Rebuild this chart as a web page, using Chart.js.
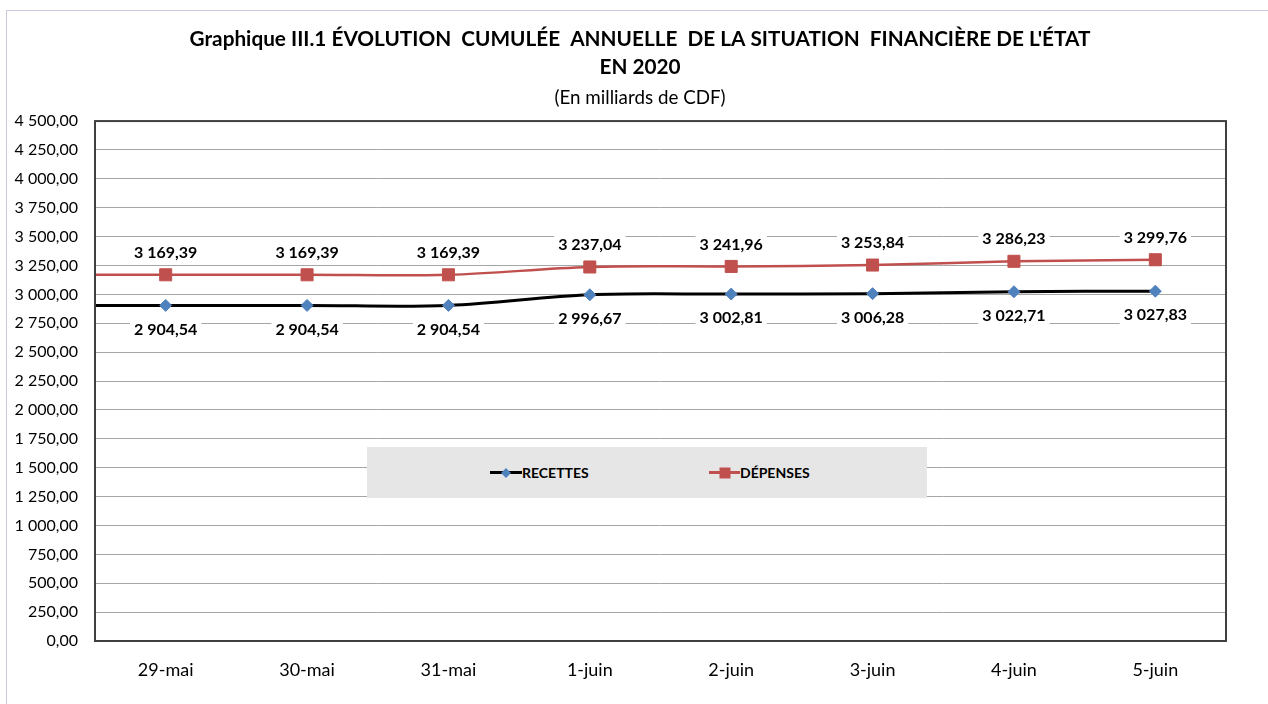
<!DOCTYPE html>
<html lang="fr">
<head>
<meta charset="utf-8">
<script src="https://cdn.jsdelivr.net/npm/chart.js@4.4.1/dist/chart.umd.min.js"></script>
<style>
  html,body{margin:0;padding:0;background:#fff;overflow:hidden;}
  #wrap{position:relative;width:1268px;height:704px;}
  #frame{position:absolute;left:6px;top:10px;right:-2px;bottom:-2px;border-top:1px solid #c9c9e0;border-left:1px solid #c9c9e0;pointer-events:none;}
  canvas{position:absolute;left:0;top:0;}
  #legend{position:absolute;left:367px;top:447px;width:560px;height:51px;background:#e6e6e6;
    font-family:Lato, 'Open Sans', sans-serif;font-weight:bold;font-size:14px;color:#000;}
  .item{position:absolute;top:0;height:51px;display:flex;align-items:center;}
  .sym{position:relative;width:32px;height:3px;}
  .sym i{position:absolute;left:50%;top:50%;}
  #l1{left:123px;} #l2{left:342px;}
  #l1 .sym{background:#000;}
  #l1 .sym i{width:7px;height:7px;background:#4f81bd;transform:translate(-50%,-50%) rotate(45deg);}
  #l2 .sym{background:#c0504d;width:31px;}
  #l2 .sym i{width:11px;height:11px;background:#c0504d;transform:translate(-50%,-50%);}
</style>
</head>
<body>
<div id="wrap">
  <canvas id="c" width="1268" height="704"></canvas>
  <div id="frame"></div>
  <div id="legend">
    <div class="item" id="l1"><span class="sym"><i></i></span><span>RECETTES</span></div>
    <div class="item" id="l2"><span class="sym"><i></i></span><span>DÉPENSES</span></div>
  </div>
</div>
<script>
const categories = ['29-mai','30-mai','31-mai','1-juin','2-juin','3-juin','4-juin','5-juin'];
const recettes = [2904.54, 2904.54, 2904.54, 2996.67, 3002.81, 3006.28, 3022.71, 3027.83];
const depenses = [3169.39, 3169.39, 3169.39, 3237.04, 3241.96, 3253.84, 3286.23, 3299.76];
const yMin = 0, yMax = 4500, yStep = 250;
const titleLines = ["Graphique III.1 ÉVOLUTION  CUMULÉE  ANNUELLE  DE LA SITUATION  FINANCIÈRE DE L'ÉTAT", "EN 2020"];
const subtitleText = "(En milliards de CDF)";

function fr(v){
  const parts = Number(v).toFixed(2).split('.');
  return parts[0].replace(/\B(?=(\d{3})+(?!\d))/g, ' ') + ',' + parts[1];
}

const FONT = "Lato, 'Open Sans', sans-serif";

const extendPlugin = {
  id: 'extend',
  beforeDatasetsDraw(chart){
    const ctx = chart.ctx, a = chart.chartArea;
    chart.data.datasets.forEach((ds, i) => {
      const meta = chart.getDatasetMeta(i);
      const p = meta.data[0];
      if (!p) return;
      ctx.save();
      ctx.strokeStyle = ds.borderColor;
      ctx.lineWidth = ds.borderWidth;
      ctx.beginPath();
      ctx.moveTo(a.left, p.y);
      ctx.lineTo(p.x, p.y);
      ctx.stroke();
      ctx.restore();
    });
    ctx.save();
    ctx.strokeStyle = '#404040';
    ctx.lineWidth = 2;
    ctx.strokeRect(a.left, a.top, a.right - a.left, a.bottom - a.top);
    ctx.restore();
  }
};

const labelPlugin = {
  id: 'labels',
  afterDatasetsDraw(chart){
    const ctx = chart.ctx;
    ctx.save();
    ctx.font = 'bold 16px ' + FONT;
    ctx.textAlign = 'center';
    ctx.textBaseline = 'middle';
    chart.data.datasets.forEach((ds, i) => {
      const meta = chart.getDatasetMeta(i);
      const off = ds.labelOffset;
      meta.data.forEach((p, j) => {
        const t = fr(ds.data[j]);
        const w = ctx.measureText(t).width;
        const y = p.y + off;
        ctx.fillStyle = '#fff';
        ctx.fillRect(p.x - w/2 - 4, y - 9, w + 8, 18);
        ctx.fillStyle = '#000';
        ctx.fillText(t, p.x, y);
      });
    });
    ctx.restore();
  }
};

new Chart(document.getElementById('c'), {
  type: 'line',
  data: {
    labels: categories,
    datasets: [
      {
        label: 'RECETTES',
        data: recettes,
        borderColor: '#000000',
        borderWidth: 3,
        tension: 0.35,
        pointStyle: 'rectRot',
        pointRadius: 6,
        pointBackgroundColor: '#4f81bd',
        pointBorderColor: '#4f81bd',
        pointBorderWidth: 1,
        labelOffset: 24
      },
      {
        label: 'DÉPENSES',
        data: depenses,
        borderColor: '#c0504d',
        borderWidth: 2.5,
        tension: 0.35,
        pointStyle: 'rect',
        pointRadius: 8.5,
        pointBackgroundColor: '#c0504d',
        pointBorderColor: '#c0504d',
        pointBorderWidth: 1,
        labelOffset: -22
      }
    ]
  },
  options: {
    responsive: false,
    animation: false,
    layout: { padding: { left: 12, right: 0, top: 0, bottom: 0 } },
    plugins: {
      legend: { display: false },
      tooltip: { enabled: false },
      title: {
        display: true,
        text: titleLines,
        color: '#000',
        font: { family: FONT, size: 20.75, weight: 'bold', lineHeight: 1.35 },
        padding: { top: 25, bottom: 5 }
      },
      subtitle: {
        display: true,
        text: subtitleText,
        color: '#000',
        font: { family: FONT, size: 18.8, weight: 'normal', lineHeight: 1.3 },
        padding: { top: 0, bottom: 10.6 }
      }
    },
    scales: {
      x: {
        offset: true,
        grid: { display: false, drawTicks: false },
        border: { display: false },
        ticks: { color: '#000', font: { family: FONT, size: 18 }, padding: 18, maxRotation: 0 },
        afterFit(s){ s.height = 63; }
      },
      y: {
        min: yMin, max: yMax,
        grid: { color: '#a6a6a6', lineWidth: 1, drawTicks: false },
        border: { display: false },
        ticks: { stepSize: yStep, color: '#000', font: { family: FONT, size: 16 }, padding: 17,
                 callback: v => fr(v) },
        afterFit(s){ s.width = 83; }
      },
      y2: {
        position: 'right',
        display: true,
        grid: { display: false, drawTicks: false },
        border: { display: false },
        ticks: { display: false },
        afterFit(s){ s.width = 42; }
      }
    }
  },
  plugins: [extendPlugin, labelPlugin]
});
</script>
</body>
</html>
